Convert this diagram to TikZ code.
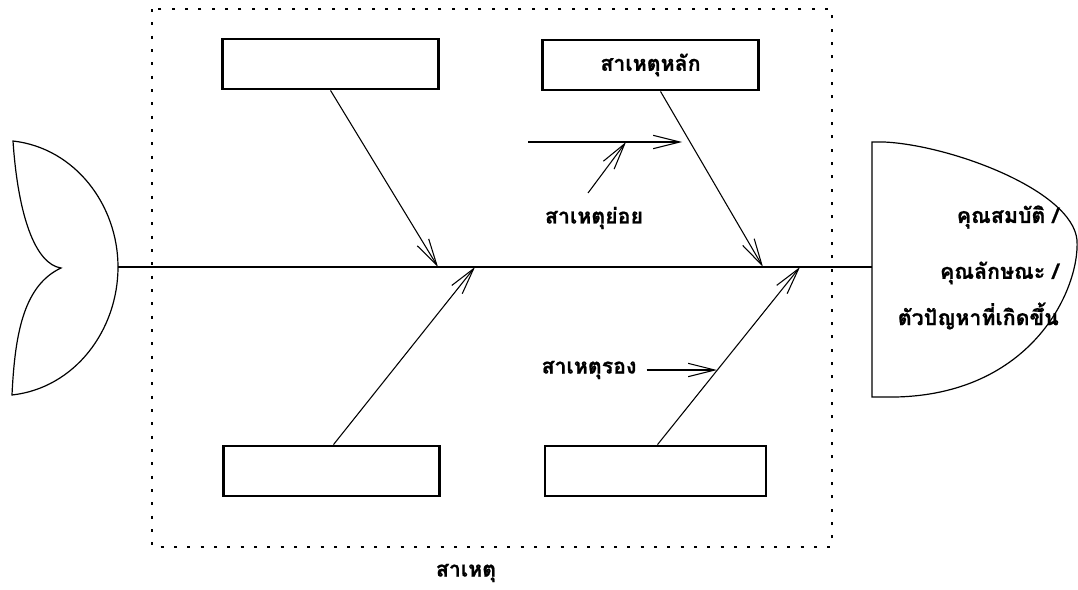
\documentclass[tikz,border=0pt]{standalone}
\usepackage{fontspec}
\newfontfamily\thai[Script=Thai,FakeBold=0.8]{Loma}
\usetikzlibrary{arrows.meta,calc}
\begin{document}
\begin{tikzpicture}[x=0.75pt,y=-0.75pt,
  thaitext/.style={font=\thai\bfseries\fontsize{16}{18}\selectfont},
  box/.style={draw,line width=1.6pt,minimum width=162pt,minimum height=38pt,inner sep=0pt,thaitext},
  bone/.style={line width=0.8pt,-{Straight Barb[length=20pt,width=10pt]}},
  lbl/.style={inner sep=0pt,thaitext},
  outline/.style={line width=0.9pt},
  spine/.style={line width=1.1pt},
  frame/.style={line width=2pt,dash pattern=on 2.2pt off 7.8pt}]
\useasboundingbox (0,0) rectangle (1078,589);
% dotted frame of causes
\draw[frame] (152,9) rectangle (832,547);
\node[lbl] (causes) at (466,573) {สาเหตุ};
% tail
\draw[outline] (13,141) .. controls (75,148) and (118,205) .. (118,267)
  .. controls (118,330) and (75,388) .. (12,395)
  .. controls (15,330) and (25,285) .. (61,268)
  .. controls (35,264) and (18,215) .. (13,141) -- cycle;
% head
\draw[outline] (872,142) -- (884,142) .. controls (950,145) and (1072,190) .. (1077,240)
  .. controls (1080,290) and (1030,400) .. (884,397) -- (872,397) -- cycle;
\node[lbl,anchor=east] (h1) at (1059,217) {คุณสมบัติ /};
\node[lbl,anchor=east] (h2) at (1059,273) {คุณลักษณะ /};
\node[lbl,anchor=east] (h3) at (1059,316) {ตัวปัญหาที่เกิดขึ้น};
% spine
\coordinate (tailtip) at (118,267);
\coordinate (headL) at (872,267);
\draw[spine] (tailtip) -- (headL);
% boxes
\node[box] (tl) at (330.5,64) {};
\node[box] (tr) at (650.5,65) {สาเหตุหลัก};
\node[box] (bl) at (331.5,471) {};
\node[box,minimum width=166pt] (br) at (655.5,471) {};
% joints on spine
\coordinate (j1) at (438,267);
\coordinate (j2) at (475,267);
\coordinate (j3) at (763,267);
\coordinate (j4) at (800,267);
% main bones
\draw[bone] (tl.south) -- (j1);
\draw[bone] ($(tr.south)+(10,0)$) -- (j3);
\draw[bone] ($(bl.north)+(2,0)$) -- (j2);
\draw[bone] ($(br.north)+(2,0)$) -- (j4);
% sub causes
\coordinate (s0) at (528,142);
\coordinate (s1) at (682,142);
\draw[bone] (s0) -- (s1);
\coordinate (s2) at (588,193);
\coordinate (s3) at (626,142);
\draw[bone] (s2) -- (s3);
\node[lbl] (sub) at (594,218) {สาเหตุย่อย};
% secondary cause
\node[lbl] (sec) at (589,370) {สาเหตุรอง};
\coordinate (j5) at (717,370);
\draw[bone] ($(sec.east)+(10,0)$) -- (j5);
\end{tikzpicture}
\end{document}
